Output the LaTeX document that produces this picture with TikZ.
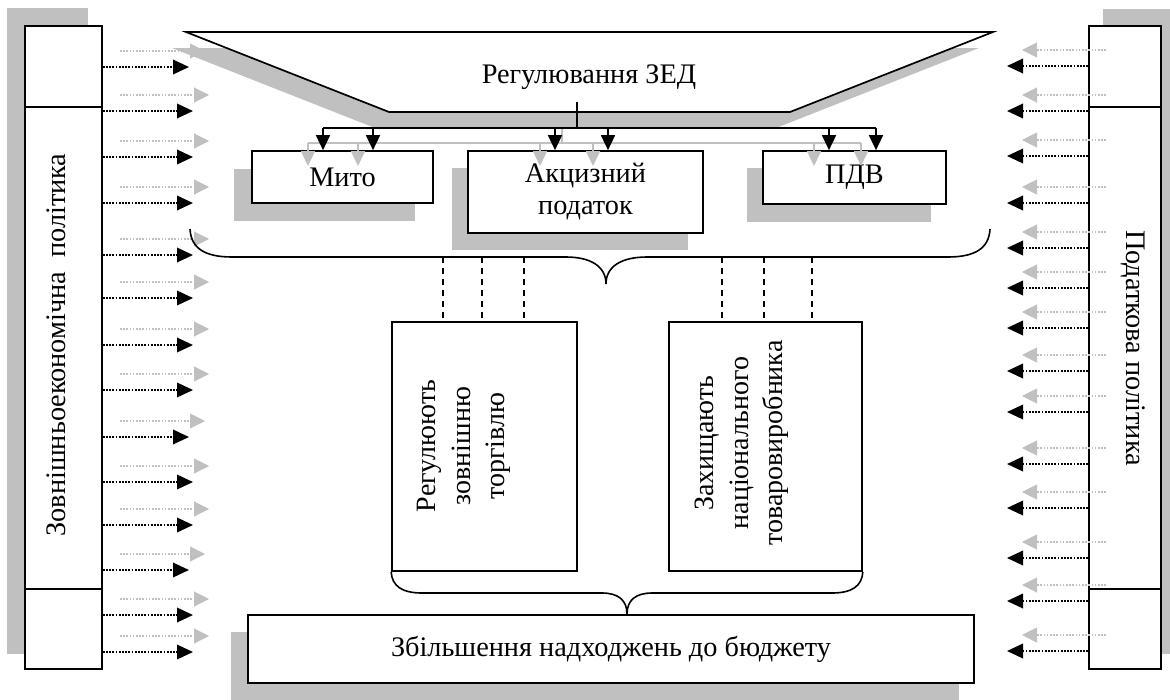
\documentclass[tikz,border=0pt]{standalone}
\usepackage{fontspec}
\setmainfont{Liberation Serif}
\usetikzlibrary{arrows.meta,calc}
\definecolor{shd}{RGB}{192,192,192}
\newcommand\dfont{\fontsize{28.3}{32}\selectfont}
\begin{document}
\begin{tikzpicture}[x=1pt,y=-1pt,
 frame/.style={draw=black,line width=1.7pt,fill=white,inner sep=0pt},
 lbl/.style={inner sep=0pt,font=\dfont,align=center},
 rlbl/.style={inner sep=0pt,font=\fontsize{28}{34.5}\selectfont,align=center},
 shadowfill/.style={fill=shd,draw=none},
 barr/.style={line width=1.9pt,dash pattern=on 1.8pt off 1.4pt,-{Triangle[length=16pt,width=14.5pt]}},
 garr/.style={draw=shd,line width=1.1pt,dash pattern=on 1.6pt off 1.6pt,-{Triangle[length=15pt,width=15pt]}},
 darr/.style={line width=1.6pt,-{Triangle[length=15pt,width=14pt]}},
 gdarr/.style={draw=shd,line width=1.4pt,-{Triangle[length=15pt,width=14pt]}},
 brace/.style={line width=1.6pt},
 dline/.style={line width=1.6pt,dash pattern=on 6pt off 5pt}
]
\useasboundingbox (0,0) rectangle (1170,699);

% ---------- shadows ----------
\fill[shadowfill] (7,8) rectangle (88,654);
\fill[shadowfill] (1103,9) rectangle (1172,654);
\fill[shadowfill] (172,48) -- (979,48) -- (776,128) -- (375,128) -- cycle;
\fill[shadowfill] (234,169) rectangle (415,221);
\fill[shadowfill] (452,168) rectangle (688,250);
\fill[shadowfill] (747,168) rectangle (931,222);
\fill[shadowfill] (231,632) rectangle (959,702);

% ---------- side columns ----------
\node[frame,minimum width=77pt,minimum height=643pt] (lcol) at (63.5,347.5) {};
\node[frame,minimum width=72pt,minimum height=643pt] (rcol) at (1125,347.5) {};
\coordinate (ld1) at (0,107); \coordinate (ld2) at (0,589);
\draw[line width=1.7pt] (lcol.west |- ld1) -- (lcol.east |- ld1);
\draw[line width=1.7pt] (lcol.west |- ld2) -- (lcol.east |- ld2);
\draw[line width=1.7pt] (rcol.west |- ld1) -- (rcol.east |- ld1);
\draw[line width=1.7pt] (rcol.west |- ld2) -- (rcol.east |- ld2);
\node[lbl,rotate=90] (ltext) at (56,345) {Зовнішньоекономічна\hspace{0.5em}політика};
\node[lbl,rotate=-90] (rtext) at (1133,348) {Податкова політика};

% ---------- side arrows ----------
\foreach \y/\t [count=\i] in {67/189,111/193,157/193,203/193,255/193,298/193,345/193,390/193,437/189,482/193,525/193,570/189,615/193,652/193}{
  \coordinate (lt\i) at (\t,\y);
  \coordinate (lg\i) at (\t+16,\y-16);
  \coordinate (lgs\i) at (120,\y-16);
  \draw[garr] (lgs\i) -- (lg\i);
  \draw[barr] (lcol.east |- lt\i) -- (lt\i);
}
\foreach \y [count=\i] in {66,111,156,203,248,288,328,371,412,464,508,558,601,651}{
  \coordinate (rt\i) at (1007,\y);
  \coordinate (rg\i) at (1022,\y-16);
  \coordinate (rgs\i) at (1106,\y-16);
  \draw[garr] (rgs\i) -- (rg\i);
  \draw[barr] (rcol.west |- rt\i) -- (rt\i);
}

% ---------- funnel ----------
\coordinate (f1) at (186,32); \coordinate (f2) at (993,32);
\coordinate (f3) at (790,112); \coordinate (f4) at (389,112);
\draw[line width=1.7pt,fill=white] (f1) -- (f2) -- (f3) -- (f4) -- cycle;
\node[lbl] (zed) at (589,77) {Регулювання ЗЕД};

% ---------- top boxes ----------
\node[frame,lbl,minimum width=181pt,minimum height=52pt] (mito) at (342.5,177) {Мито};
\node[frame,lbl,minimum width=235pt,minimum height=82pt] (akc) at (585.5,192) {Акцизний\\податок};
\node[frame,lbl,minimum width=183pt,minimum height=53pt] (pdv) at (854.5,177.5) {ПДВ};

% ---------- distribution (gray copy) ----------
\coordinate (gstub) at (562,117); \coordinate (gbus) at (562,143);
\coordinate (gbusl) at (308,143); \coordinate (gbusr) at (861,143);
\draw[draw=shd,line width=1.4pt] (gstub) -- (gbus);
\draw[draw=shd,line width=1.4pt] (gbusl) -- (gbusr);
\foreach \x [count=\i] in {308,358,540,593,814,861}{
  \coordinate (gd\i) at (\x,143);
  \coordinate (ge\i) at (\x,166);
  \draw[gdarr] (gd\i) -- (ge\i);
}

% ---------- distribution (black) ----------
\coordinate (stub) at (577,102); \coordinate (bus) at (577,128);
\coordinate (busl) at (323,128); \coordinate (busr) at (876,128);
\draw[line width=1.6pt] (stub) -- (bus);
\draw[line width=1.6pt] (busl) -- (busr);
\foreach \x/\b [count=\i] in {323/mito,373/mito,555/akc,608/akc,829/pdv,876/pdv}{
  \coordinate (bd\i) at (\x,128);
  \draw[darr] (bd\i) -- (bd\i |- \b.north);
}

% ---------- upper brace ----------
\coordinate (ub1) at (190,229); \coordinate (ub2) at (990,229);
\coordinate (ubtip) at (606,284);
\draw[brace] (ub1) .. controls (191,249) and (206,257) .. (232,257)
  -- (566,257) .. controls (590,257) and (606,266) .. (ubtip)
  .. controls (606,266) and (622,257) .. (647,257)
  -- (948,257) .. controls (974,257) and (989,249) .. (ub2);

% ---------- middle boxes ----------
\node[frame,minimum width=185pt,minimum height=249pt] (midl) at (484.5,446.5) {};
\node[frame,minimum width=193pt,minimum height=249pt] (midr) at (765.5,446.5) {};
\node[rlbl,rotate=90] (midltext) at (464,446) {Регулюють\\зовнішню\\торгівлю};
\node[rlbl,rotate=90] (midrtext) at (742,443) {Захищають\\національного\\товаровиробника};

% ---------- dashed links ----------
\foreach \x [count=\i] in {443,482,524}{
  \coordinate (dl\i) at (\x,257);
  \draw[dline] (dl\i) -- (dl\i |- midl.north);
}
\foreach \x [count=\i] in {722,764,812}{
  \coordinate (dr\i) at (\x,257);
  \draw[dline] (dr\i) -- (dr\i |- midr.north);
}

% ---------- lower brace ----------
\coordinate (lbtip) at (627,614);
\draw[brace] (midl.south west) .. controls (392,586) and (402,593) .. (422,593)
  -- (602,593) .. controls (618,593) and (627,600) .. (lbtip)
  .. controls (627,600) and (636,593) .. (652,593)
  -- (832,593) .. controls (852,593) and (862,586) .. (midr.south east);

% ---------- bottom box ----------
\node[frame,lbl,minimum width=726pt,minimum height=68pt] (budget) at (611,649) {Збільшення надходжень до бюджету};

\end{tikzpicture}
\end{document}
